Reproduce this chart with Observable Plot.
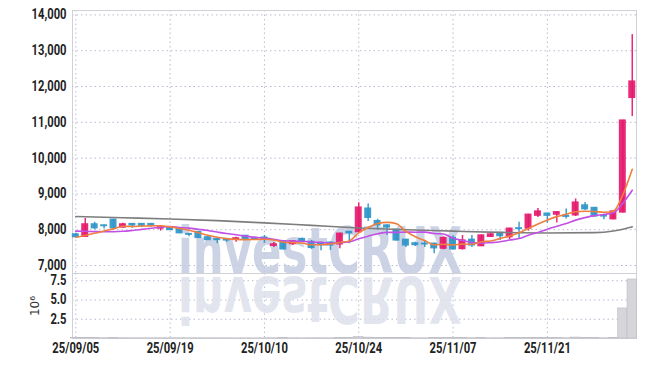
<!DOCTYPE html>
<html><head><meta charset="utf-8">
<script src="https://cdn.jsdelivr.net/npm/d3@7"></script>
<script src="https://cdn.jsdelivr.net/npm/@observablehq/plot@0.6"></script>
<style>
body{margin:0;background:#fff;}
#chart{position:relative;width:645px;height:367px;background:#fff;}
#chart svg{position:absolute;left:0;}
</style></head><body><div id="chart"></div>
<script>
const dates = ["25/09/05","25/09/08","25/09/09","25/09/10","25/09/11","25/09/12","25/09/15","25/09/16","25/09/17","25/09/18","25/09/19",
"25/09/22","25/09/23","25/09/24","25/09/25","25/09/26","25/09/29","25/09/30","25/10/01","25/10/02","25/10/10",
"25/10/13","25/10/14","25/10/15","25/10/16","25/10/17","25/10/20","25/10/21","25/10/22","25/10/23","25/10/24",
"25/10/27","25/10/28","25/10/29","25/10/30","25/10/31","25/11/03","25/11/04","25/11/05","25/11/06","25/11/07",
"25/11/10","25/11/11","25/11/12","25/11/13","25/11/14","25/11/17","25/11/18","25/11/19","25/11/20","25/11/21",
"25/11/24","25/11/25","25/11/26","25/11/27","25/11/28","25/12/01","25/12/02","25/12/03","25/12/04"];
const open  = [7870,7800,8150,8120,8280,8060,8160,8160,8160,8030,8070,8040,7880,7940,7790,7740,7730,7740,7830,7770,7780,7550,7680,7600,7740,7660,7630,7640,7590,7940,7930,8590,8240,8120,8000,7720,7620,7610,7610,7470,7770,7460,7720,7540,7800,7910,7790,8040,8030,8390,8450,8420,8390,8400,8680,8610,8390,8290,8480,11680];
const high  = [7900,8310,8210,8130,8290,8180,8170,8170,8170,8090,8090,8050,7890,7950,7800,7740,7730,7790,7840,7790,7840,7640,7700,7700,7770,7700,7650,7660,7900,7960,8750,8720,8290,8140,8010,7730,7650,7670,7620,7800,7830,7840,7840,7850,7900,7920,8040,8210,8430,8590,8460,8500,8580,8860,8760,8620,8430,8520,11060,13450];
const low   = [7780,7790,8000,8020,8030,8040,8040,8060,8080,7960,7980,7890,7800,7760,7700,7610,7650,7650,7720,7730,7620,7500,7440,7560,7660,7450,7410,7420,7470,7610,7900,8230,7990,7840,7680,7500,7530,7500,7330,7440,7440,7430,7510,7530,7790,7700,7720,7750,7960,8340,8180,8190,8300,8370,8540,8360,8280,8280,8470,11160];
const close = [7790,8150,8040,8100,8040,8150,8120,8110,8110,8070,7990,7900,7860,7770,7710,7710,7700,7760,7730,7740,7740,7590,7450,7680,7680,7490,7600,7560,7890,7900,8620,8330,8120,8060,7700,7560,7570,7590,7480,7770,7450,7700,7560,7840,7870,7820,8030,8020,8420,8510,8390,8490,8360,8760,8570,8370,8370,8510,11050,12140];
const volume = [42000,95000,51000,38000,47000,36000,31000,28000,26000,33000,30000,29000,27000,35000,31000,28000,24000,22000,25000,21000,26000,34000,41000,30000,23000,37000,33000,29000,60000,45000,190000,110000,52000,40000,48000,39000,28000,26000,41000,55000,47000,44000,36000,42000,30000,33000,46000,51000,78000,62000,48000,40000,37000,120000,70000,52000,31000,45000,3900000,7660000];
const ma5  = [7790,7840,7900,7965,8024,8096,8090,8104,8106,8112,8080,8036,7986,7918,7846,7790,7750,7730,7722,7728,7734,7712,7650,7640,7628,7578,7580,7602,7644,7688,7914,8060,8172,8206,8166,7954,7802,7696,7580,7594,7572,7598,7592,7664,7684,7758,7824,7916,8032,8160,8274,8366,8434,8502,8514,8510,8486,8516,8974,9688];
const ma10 = [7960,7955,7948,7944,7945,7955,7980,8010,8040,8068,8088,8063,8045,8012,7979,7935,7893,7858,7820,7787,7762,7731,7690,7681,7678,7656,7646,7626,7642,7658,7746,7820,7887,7925,7927,7934,7931,7934,7893,7880,7763,7700,7644,7622,7639,7665,7711,7754,7848,7922,8016,8095,8175,8268,8338,8393,8427,8476,8739,9102];
const ma60Idx = [0,5,10,15,20,25,30,35,40,45,50,55,57,58,59];
const ma60    = [8370,8335,8300,8255,8190,8120,8050,8000,7960,7925,7910,7920,7965,8015,8080];
const priceTicks = [7000,8000,9000,10000,11000,12000,13000,14000];
const volumeTicks = [2500000,5000000,7500000];
const xTickIdx = [0,10,20,30,40,50];

const UP = "#e5196c", DOWN = "#2f95c9";
const FONT = "Roboto,'Liberation Sans',sans-serif";
const GRID = {stroke:"#b7bbd2", strokeOpacity:1, strokeDasharray:"1.5,3", strokeWidth:1};
const XD = [-0.35, 59.45];

const candles = dates.map((d,i)=>({i, o:open[i], h:high[i], l:low[i], c:close[i], col: close[i]>=open[i]?UP:DOWN}));
const l5 = ma5.map((v,i)=>({i,v}));
const l10 = ma10.map((v,i)=>({i,v}));
const l60 = ma60.map((v,k)=>({i:ma60Idx[k], v}));
const vols = volume.map((v,i)=>({i,v}));

const price = Plot.plot({
  width:645, height:273, marginLeft:72, marginRight:9, marginTop:10, marginBottom:0,
  style:{fontFamily:FONT, fontSize:"14px", fontWeight:"bold", color:"#222", background:"white", overflow:"visible"},
  color:{type:"identity"},
  x:{domain:XD, axis:null},
  y:{domain:[6777,14123], ticks:priceTicks, tickFormat:d3.format(","), tickSize:0, tickPadding:6, label:null},
  marks:[
    Plot.gridY(priceTicks, GRID),
    Plot.gridX(xTickIdx, GRID),
    Plot.frame({stroke:"#d0d0d8"}),
    Plot.ruleX(candles, {x:"i", y1:"l", y2:"h", stroke:"col", strokeWidth:1.5, strokeOpacity:0.92}),
    Plot.rect(candles, {x1:d=>d.i-0.37, x2:d=>d.i+0.37, y1:"o", y2:"c", fill:"col", fillOpacity:0.92, insetTop:-0.6, insetBottom:-0.6}),
    Plot.line(l60, {x:"i", y:"v", stroke:"#7d7d7d", strokeWidth:1.6, curve:"monotone-x"}),
    Plot.line(l10, {x:"i", y:"v", stroke:"#c24fe6", strokeWidth:1.6, curve:"monotone-x"}),
    Plot.line(l5, {x:"i", y:"v", stroke:"#f07e3e", strokeWidth:1.6, curve:"monotone-x"})
  ]
});
price.style.top = "0px";

const vol = Plot.plot({
  width:645, height:94, marginLeft:72, marginRight:9, marginTop:0, marginBottom:29,
  style:{fontFamily:FONT, fontSize:"14px", fontWeight:"bold", color:"#222", background:"white", overflow:"visible"},
  x:{domain:XD, ticks:xTickIdx, tickFormat:i=>dates[i], tickSize:0, tickPadding:5, label:null},
  y:{domain:[0,8440000], ticks:volumeTicks, tickFormat:d=>(d/1e6).toFixed(1), tickSize:0, tickPadding:6, label:"10⁶", labelAnchor:"center", labelOffset:42, labelArrow:"none"},
  marks:[
    Plot.gridY(volumeTicks, GRID),
    Plot.gridX(xTickIdx, GRID),
    Plot.frame({stroke:"#d0d0d8"}),
    Plot.rect(vols, {x1:d=>d.i-0.5, x2:d=>d.i+0.5, y1:0, y2:"v", fill:"#d5d5da", stroke:"#bcbcc4", strokeWidth:0.6})
  ]
});
vol.style.top = "273px";

const chart = document.getElementById("chart");
chart.appendChild(price);
chart.appendChild(vol);

// condensed look for tick labels
for (const svg of [price, vol]) {
  svg.querySelectorAll('[aria-label="y-axis tick label"] text, [aria-label="x-axis tick label"] text').forEach(t => {
    const w = t.getComputedTextLength();
    t.setAttribute("textLength", (w * 0.8).toFixed(1));
    t.setAttribute("lengthAdjust", "spacingAndGlyphs");
  });
}

// watermark behind the candles
const ps = d3.select(price);
const firstMark = price.querySelector('[aria-label="rule"]');
ps.insert("text", () => firstMark)
  .attr("x", 320).attr("y", 273).attr("text-anchor","middle")
  .attr("textLength", 284).attr("lengthAdjust","spacingAndGlyphs")
  .attr("font-family","'DejaVu Sans',sans-serif").attr("font-weight","bold")
  .attr("font-size", 64).attr("fill","#c3cbe0").attr("fill-opacity",0.85)
  .text("investCRUX");
const vs = d3.select(vol);
const volMark = vol.querySelector('[aria-label="rect"]');
vs.insert("g", () => volMark).attr("transform","translate(0,4) scale(1,-1)")
  .append("text")
  .attr("x", 320).attr("y", 0).attr("text-anchor","middle")
  .attr("textLength", 284).attr("lengthAdjust","spacingAndGlyphs")
  .attr("font-family","'DejaVu Sans',sans-serif").attr("font-weight","bold")
  .attr("font-size", 64).attr("fill","#dde1ec").attr("fill-opacity",0.85)
  .text("investCRUX");
// axis label font
vs.selectAll('[aria-label="y-axis label"] text').attr("font-family","'DejaVu Sans',sans-serif").attr("font-size",12).attr("font-weight","normal").attr("fill","#333");
</script>
</body></html>
